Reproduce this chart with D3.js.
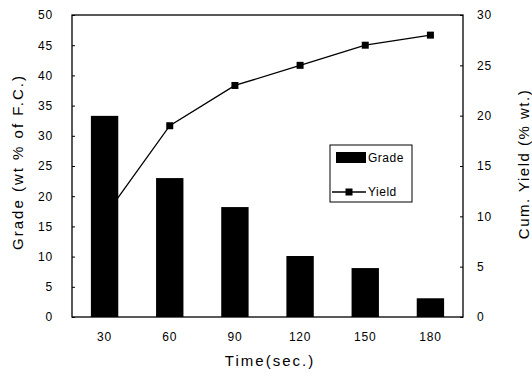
<!DOCTYPE html>
<html lang="en">
<head>
  <meta charset="UTF-8" />
  <title>Grade and Cumulative Yield</title>
  <style>
    body { margin: 0; background: #fff; font-family: "Liberation Sans", Arial, sans-serif; }
    svg text { fill: #000; }
  </style>
</head>
<body>
  <div id="chart"></div>
  <script src="https://cdn.jsdelivr.net/npm/d3@7"></script>
  <script>
    const times = ["30", "60", "90", "120", "150", "180"];
    const grade = [33.3, 23.0, 18.2, 10.1, 8.1, 3.1];
    const yieldVals = [10, 19, 23, 25, 27, 28];
    const leftTicks = [0, 5, 10, 15, 20, 25, 30, 35, 40, 45, 50];
    const rightTicks = [0, 5, 10, 15, 20, 25, 30];

    const W = 532, H = 377;
    const m = { left: 72, right: 69, top: 15, bottom: 60 };

    const svg = d3.select("#chart").append("svg")
      .attr("width", W).attr("height", H);

    const x = d3.scaleBand().domain(times)
      .range([m.left, W - m.right]).paddingInner(0.58).paddingOuter(0.29);
    const yL = d3.scaleLinear().domain([0, 50]).range([H - m.bottom, m.top]);
    const yR = d3.scaleLinear().domain([0, 30]).range([H - m.bottom, m.top]);

    // frame
    svg.append("rect")
      .attr("x", m.left).attr("y", m.top)
      .attr("width", W - m.left - m.right).attr("height", H - m.top - m.bottom)
      .attr("fill", "none").attr("stroke", "#000").attr("stroke-width", 1.3);

    // axes
    const axL = svg.append("g").attr("transform", `translate(${m.left},0)`)
      .call(d3.axisLeft(yL).tickValues(leftTicks).tickSize(-3).tickPadding(19));
    const axR = svg.append("g").attr("transform", `translate(${W - m.right},0)`)
      .call(d3.axisRight(yR).tickValues(rightTicks).tickSize(-3).tickPadding(14));
    const axB = svg.append("g").attr("transform", `translate(0,${H - m.bottom})`)
      .call(d3.axisBottom(x).tickSize(0).tickPadding(15));

    [axL, axR, axB].forEach(g => {
      g.select(".domain").remove();
      g.selectAll("text").attr("font-size", 12).attr("letter-spacing", 0.8)
        .attr("font-family", "Liberation Sans, Arial, sans-serif");
      g.selectAll(".tick line").attr("stroke", "#000");
    });
    axL.selectAll("text").attr("text-anchor", "end");

    // yield line (drawn under bars)
    const line = d3.line()
      .x((d, i) => x(times[i]) + x.bandwidth() / 2)
      .y(d => yR(d));
    svg.append("path").datum(yieldVals)
      .attr("d", line).attr("fill", "none")
      .attr("stroke", "#000").attr("stroke-width", 1.3);
    svg.selectAll(".mk").data(yieldVals).join("rect")
      .attr("class", "mk")
      .attr("x", (d, i) => x(times[i]) + x.bandwidth() / 2 - 3.5)
      .attr("y", d => yR(d) - 3.5)
      .attr("width", 7).attr("height", 7).attr("fill", "#000");

    // bars
    svg.selectAll(".bar").data(grade).join("rect")
      .attr("class", "bar")
      .attr("x", (d, i) => x(times[i]))
      .attr("y", d => yL(d))
      .attr("width", x.bandwidth())
      .attr("height", d => yL(0) - yL(d))
      .attr("fill", "#000");

    // titles
    svg.append("text")
      .attr("transform", `translate(${W / 2 + 4},${H - 11}) `)
      .attr("text-anchor", "middle").attr("font-size", 15).attr("letter-spacing", 2)
      .text("Time(sec.)");
    svg.append("text")
      .attr("transform", "translate(23,162) rotate(-90)")
      .attr("text-anchor", "middle").attr("font-size", 15).attr("letter-spacing", 2)
      .text("Grade (wt % of F.C.)");
    svg.append("text")
      .attr("transform", `translate(${W - 3},164) rotate(-90)`)
      .attr("text-anchor", "middle").attr("font-size", 15).attr("letter-spacing", 1.5)
      .text("Cum. Yield (% wt.)");

    // legend
    const lg = svg.append("g").attr("transform", "translate(330,145)");
    lg.append("rect").attr("width", 82).attr("height", 57)
      .attr("fill", "#fff").attr("stroke", "#000").attr("stroke-width", 1);
    lg.append("rect").attr("x", 6).attr("y", 7).attr("width", 30).attr("height", 11).attr("fill", "#000");
    lg.append("text").attr("x", 38).attr("y", 17).attr("font-size", 12).attr("letter-spacing", 0.5).text("Grade");
    lg.append("line").attr("x1", 2).attr("x2", 36).attr("y1", 47).attr("y2", 47)
      .attr("stroke", "#000").attr("stroke-width", 1.3);
    lg.append("rect").attr("x", 15.5).attr("y", 43.5).attr("width", 7).attr("height", 7).attr("fill", "#000");
    lg.append("text").attr("x", 38).attr("y", 51).attr("font-size", 12).attr("letter-spacing", 0.5).text("Yield");
  </script>
</body>
</html>
